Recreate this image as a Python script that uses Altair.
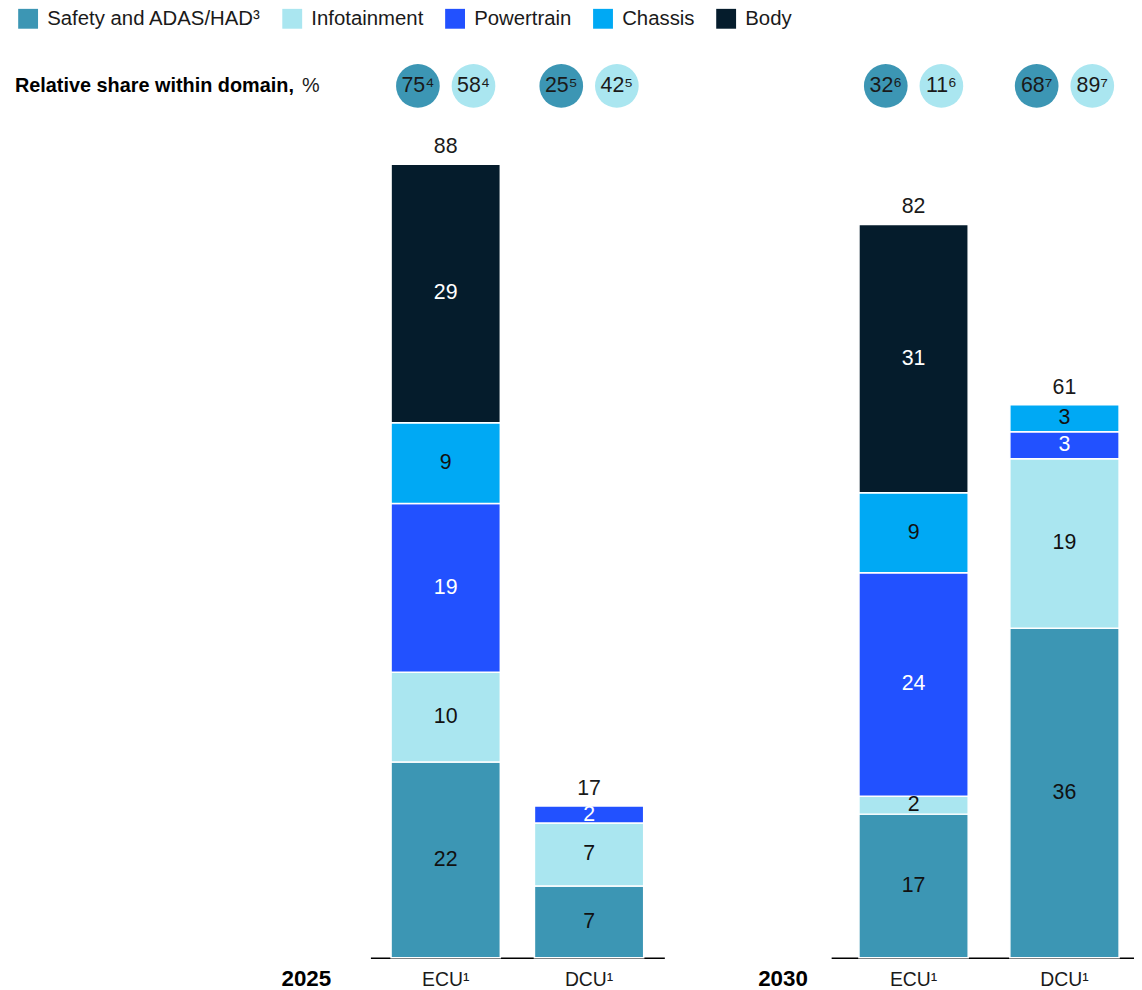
import altair as alt
import pandas as pd

FONT = "Liberation Sans"

# ---- data -------------------------------------------------------------
domains = ["Safety and ADAS/HAD³", "Infotainment", "Powertrain", "Chassis", "Body"]
colors = ["#3c96b4", "#aae6f0", "#2251ff", "#00a9f4", "#051c2c"]
label_colors = ["#111111", "#111111", "#ffffff", "#111111", "#ffffff"]

units = ["ECU¹", "DCU¹"]

# segment sizes (Safety .. Body)
ecu_2025 = [21.8, 10.0, 18.8, 9.0, 28.8]
dcu_2025 = [8.0, 7.0, 1.9, 0, 0]
ecu_2030 = [16.0, 2.0, 24.9, 8.9, 29.9]
dcu_2030 = [36.7, 18.9, 3.0, 3.0, 0]

# printed segment labels
ecu_2025_lbl = ["22", "10", "19", "9", "29"]
dcu_2025_lbl = ["7", "7", "2", "", ""]
ecu_2030_lbl = ["17", "2", "24", "9", "31"]
dcu_2030_lbl = ["36", "19", "3", "3", ""]

# printed totals (ECU, DCU)
totals_2025 = ["88", "17"]
totals_2030 = ["82", "61"]

# relative share within domain, % (Safety, Infotainment) per unit
share_2025 = [["75⁴", "58⁴"], ["25⁵", "42⁵"]]
share_2030 = [["32⁶", "11⁶"], ["68⁷", "89⁷"]]

share_title = "Relative share within domain,"
share_unit = "%"


# ---- frames -----------------------------------------------------------
def seg_frame(vals_list, lbl_list):
    rows = []
    for unit, vals, lbls in zip(units, vals_list, lbl_list):
        for i, (v, l) in enumerate(zip(vals, lbls)):
            if v > 0:
                rows.append(dict(unit=unit, domain=domains[i], idx=i, value=v,
                                 label=l, tc=label_colors[i]))
    return pd.DataFrame(rows)


def total_frame(vals_list, totals):
    return pd.DataFrame({"unit": units,
                         "top": [sum(v) for v in vals_list],
                         "label": totals})


def share_frame(shares):
    rows = []
    for unit, pair in zip(units, shares):
        for k, t in enumerate(pair):
            rows.append(dict(unit=unit, kind=k, label=t))
    return pd.DataFrame(rows)


YDOM = [0, 100]
PLOT_H = 904
CIRCLE_Y = 26
OFF = 28

legend = alt.Legend(
    orient="none", legendX=-355, legendY=-52, direction="horizontal", columns=5,
    title=None, symbolType="square", symbolSize=400, symbolStrokeWidth=0,
    symbolOpacity=1, labelFont=FONT, labelFontSize=20.5, labelColor="#1a1a1a",
    labelLimit=400, columnPadding=21, labelOffset=9, padding=0,
)


def make_panel(year, vals_list, lbl_list, totals, shares, width, xscale, title_x, extras=()):
    yscale = alt.Scale(domain=YDOM, nice=False, zero=True)
    axis = alt.Axis(
        title=year, titleX=title_x, titleY=28, titleAlign="right",
        titleBaseline="alphabetic", titleAngle=0, titleFont=FONT, titleFontSize=22.5,
        titleFontWeight="bold", titleColor="#000000",
        labelFont=FONT, labelFontSize=19.5, labelColor="#1a1a1a",
        labelBaseline="alphabetic", labelPadding=28, labelAngle=0,
        ticks=False, tickSize=0, domain=True, domainColor="#000000",
        domainWidth=1.5, grid=False,
    )
    xenc = alt.X("unit:N", sort=units, scale=xscale, axis=axis)

    seg = alt.Chart(seg_frame(vals_list, lbl_list)).transform_stack(
        stack="value", groupby=["unit"],
        sort=[alt.SortField("idx", order="ascending")], as_=["y0", "y1"],
    ).transform_calculate(mid="(datum.y0 + datum.y1) / 2")

    bars = seg.mark_bar(stroke="white", strokeWidth=1.5).encode(
        x=xenc,
        y=alt.Y("y0:Q", scale=yscale, axis=None),
        y2="y1:Q",
        color=alt.Color("domain:N", scale=alt.Scale(domain=domains, range=colors),
                        legend=legend),
    )
    seg_text = seg.mark_text(font=FONT, fontSize=21.5, baseline="middle",
                             align="center").encode(
        x=xenc,
        y=alt.Y("mid:Q", scale=yscale, axis=None),
        text="label:N",
        fill=alt.Fill("tc:N", scale=None),
    )
    tot = alt.Chart(total_frame(vals_list, totals)).mark_text(
        font=FONT, fontSize=21.5, baseline="alphabetic", dy=-11, color="#1a1a1a"
    ).encode(
        x=xenc,
        y=alt.Y("top:Q", scale=yscale, axis=None),
        text="label:N",
    )

    layers = [bars, seg_text, tot]
    sh = alt.Chart(share_frame(shares))
    for k, off in ((0, -OFF), (1, OFF)):
        f = sh.transform_filter(f"datum.kind == {k}")
        layers.append(
            f.mark_circle(size=1936, opacity=1, color=colors[k], xOffset=off).encode(
                x=xenc, y=alt.value(CIRCLE_Y))
        )
        layers.append(
            f.mark_text(font=FONT, fontSize=21.5, dx=off, baseline="middle",
                        color="#1a1a1a").encode(
                x=xenc, y=alt.value(CIRCLE_Y), text="label:N")
        )
    layers.extend(extras)
    return alt.layer(*layers).properties(width=width, height=PLOT_H)


title_bold = alt.Chart(pd.DataFrame({"t": [share_title]})).mark_text(
    font=FONT, fontSize=20, fontWeight="bold", align="left", baseline="middle",
    color="#000000",
).encode(x=alt.value(-358), y=alt.value(CIRCLE_Y), text="t:N")

title_unit = alt.Chart(pd.DataFrame({"t": [share_unit]})).mark_text(
    font=FONT, fontSize=20, align="left", baseline="middle", color="#1a1a1a",
).encode(x=alt.value(-69), y=alt.value(CIRCLE_Y), text="t:N")

p1 = make_panel(
    "2025", [ecu_2025, dcu_2025], [ecu_2025_lbl, dcu_2025_lbl], totals_2025, share_2025,
    296, alt.Scale(paddingInner=0.238, paddingOuter=0.144), -40,
    extras=(title_bold, title_unit),
)
p2 = make_panel(
    "2030", [ecu_2030, dcu_2030], [ecu_2030_lbl, dcu_2030_lbl], totals_2030, share_2030,
    305, alt.Scale(paddingInner=0.276, paddingOuter=0.1415, align=0.651), -24,
)

chart = alt.hconcat(p1, p2, spacing=168, bounds="flush").resolve_scale(
    color="shared"
).configure(font=FONT).configure_view(stroke=None).properties(
    padding={"left": 7, "top": -3, "right": 0, "bottom": -4}
)

chart.save("out.html", embed_options={"renderer": "svg", "actions": False})
